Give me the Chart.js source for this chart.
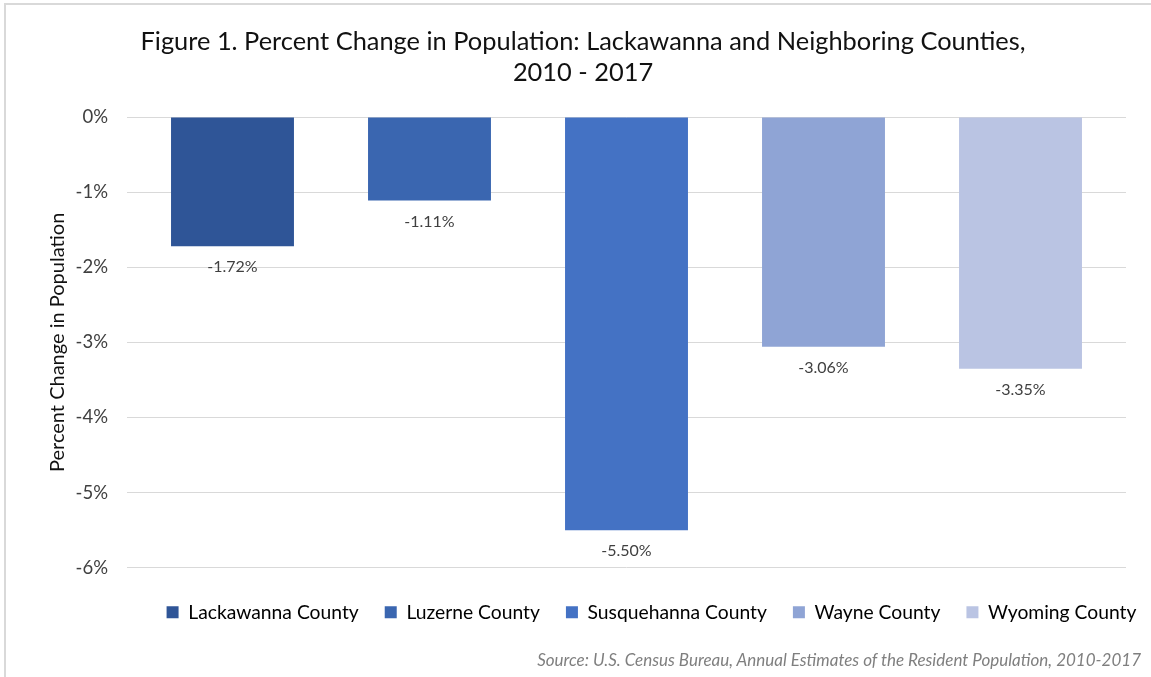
<!DOCTYPE html>
<html>
<head>
<meta charset="utf-8">
<script src="https://cdn.jsdelivr.net/npm/chart.js@4/dist/chart.umd.min.js"></script>
<style>
  html, body { margin: 0; padding: 0; background: #fff; }
  body { width: 1151px; height: 677px; position: relative; overflow: hidden; font-family: Lato, sans-serif; }
  .frame { position: absolute; left: 4px; top: 3px; width: 1300px; height: 800px;
           border-left: 2px solid #d9d9d9; border-top: 2px solid #d9d9d9; }
  #chart { position: absolute; left: 0; top: 0; }
  .title { position: absolute; left: 15px; right: 0; top: 25px; text-align: center;
           font-size: 25.4px; line-height: 31px; color: #111; }
  .source { position: absolute; right: 10px; top: 650px; font-size: 17px; line-height: 20px;
            font-style: italic; color: #7f7f7f; }
</style>
</head>
<body>
<div class="frame"></div>
<canvas id="chart" width="1151" height="677"></canvas>
<div class="title">Figure 1. Percent Change in Population: Lackawanna and Neighboring Counties,<br>2010 - 2017</div>
<div class="source">Source: U.S. Census Bureau, Annual Estimates of the Resident Population, 2010-2017</div>
<script>
// counties and their population change 2010-2017 (percent)
const counties = ['Lackawanna County', 'Luzerne County', 'Susquehanna County', 'Wayne County', 'Wyoming County'];
const changes = [-1.72, -1.11, -5.50, -3.06, -3.35];
const barColors = ['#2f5597', '#3a66b0', '#4472c4', '#8fa4d5', '#bac4e3'];
const yTicks = [0, -1, -2, -3, -4, -5, -6];

const textColor = '#404040';

// value labels under each bar
const barLabels = {
    id: 'barLabels',
    afterDatasetsDraw(chart) {
        const ctx = chart.ctx;
        const meta = chart.getDatasetMeta(0);
        ctx.save();
        ctx.font = '16px Lato';
        ctx.fillStyle = textColor;
        ctx.textAlign = 'center';
        ctx.textBaseline = 'middle';
        meta.data.forEach((bar, i) => {
            ctx.fillText(changes[i].toFixed(2) + '%', bar.x, bar.y + 21);
        });
        ctx.restore();
    }
};

// legend sits right of the page centre, like the original
const legendShift = {
    id: 'legendShift',
    afterLayout(chart) {
        chart.legend.left += 76;
        chart.legend.right += 76;
    }
};

new Chart(document.getElementById('chart'), {
    type: 'bar',
    data: {
        datasets: [{
            data: counties.map((c, i) => ({ x: i, y: changes[i] })),
            backgroundColor: barColors,
            borderWidth: 0,
            barPercentage: 0.624,
            categoryPercentage: 1
        }]
    },
    options: {
        responsive: false,
        animation: false,
        layout: { padding: { top: 117, right: 0, bottom: 45, left: 0 } },
        scales: {
            x: {
                type: 'linear',
                offset: false,
                min: -0.5355,
                max: 4.5355,
                afterBuildTicks: (scale) => { scale.ticks = counties.map((c, i) => ({ value: i })); },
                grid: { display: false },
                border: { display: false },
                ticks: { display: false },
                afterFit: (scale) => { scale.height = 9; }
            },
            y: {
                min: Math.min(...yTicks),
                max: Math.max(...yTicks),
                afterBuildTicks: (scale) => { scale.ticks = yTicks.map(v => ({ value: v })); },
                grid: { color: '#d9d9d9', lineWidth: 1, drawTicks: false },
                border: { display: false },
                ticks: {
                    padding: 19,
                    color: textColor,
                    font: { family: 'Lato', size: 18.5 },
                    callback: (v) => v + '%'
                },
                title: {
                    display: true,
                    text: 'Percent Change in Population',
                    color: '#111',
                    font: { family: 'Lato', size: 20 },
                    padding: { top: 46, bottom: 0 }
                },
                afterFit: (scale) => { scale.width = 127; }
            },
            yRight: {
                position: 'right',
                display: true,
                grid: { display: false },
                border: { display: false },
                ticks: { display: false },
                afterFit: (scale) => { scale.width = 25; }
            }
        },
        plugins: {
            legend: {
                position: 'bottom',
                labels: {
                    boxWidth: 12,
                    boxHeight: 12,
                    padding: 26,
                    color: textColor,
                    font: { family: 'Lato', size: 19.3 },
                    generateLabels: () => counties.map((c, i) => ({
                        text: c,
                        fillStyle: barColors[i],
                        strokeStyle: barColors[i],
                        lineWidth: 0,
                        hidden: false,
                        index: i
                    }))
                }
            },
            tooltip: { enabled: false }
        }
    },
    plugins: [barLabels, legendShift]
});
</script>
</body>
</html>
